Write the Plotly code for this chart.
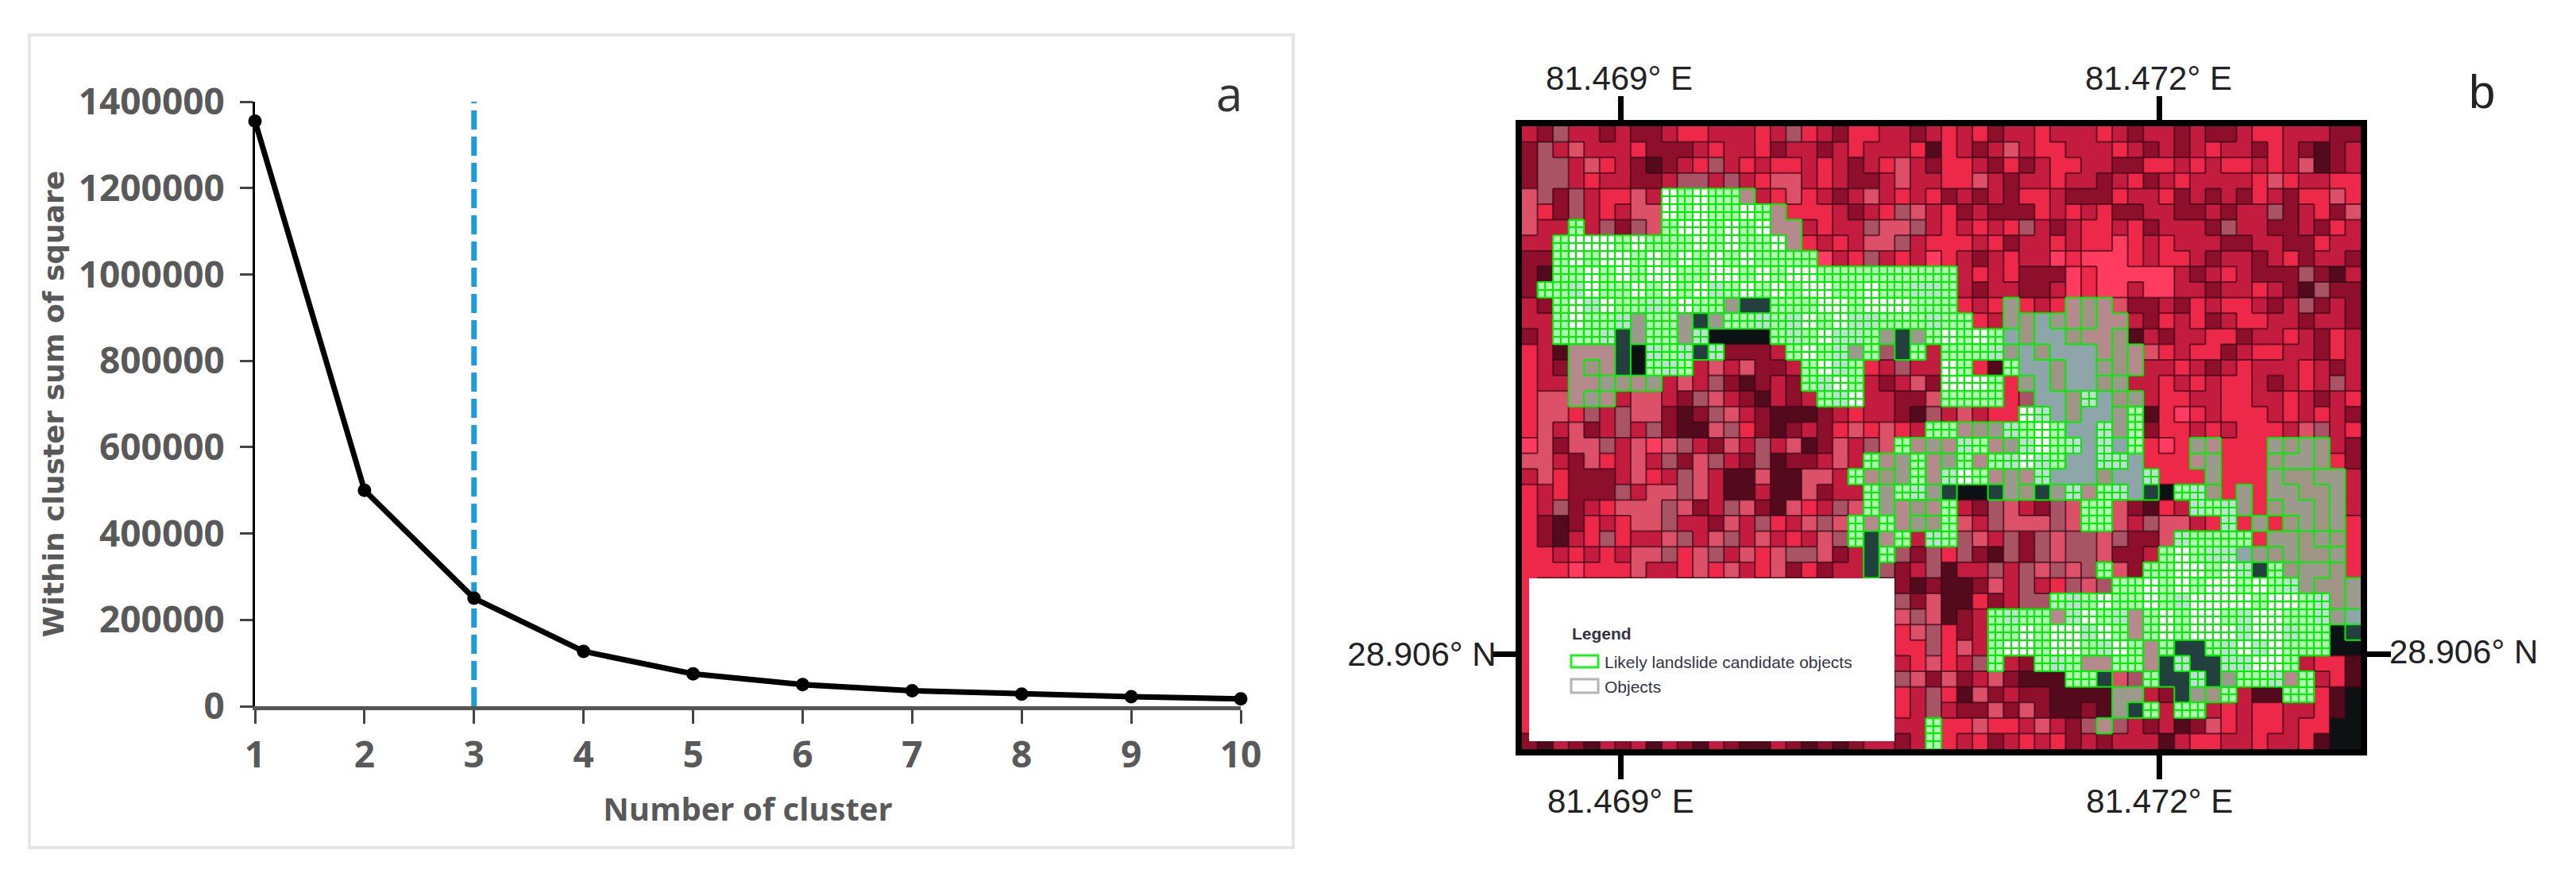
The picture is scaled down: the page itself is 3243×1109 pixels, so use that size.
import numpy as np
import plotly.graph_objects as go

W, H = 3243, 1109
PAGE_MARGIN = 8  # default body margin of the written page

# panel a values
clusters = [1, 2, 3, 4, 5, 6, 7, 8, 9, 10]
wcss = [1355000, 500000, 250000, 127000, 75000, 50000, 36000, 28000, 22000, 17000]
elbow_x = [3, 3]
elbow_y = [0, 1410000]
y_ticks = [0, 200000, 400000, 600000, 800000, 1000000, 1200000, 1400000]

# panel b ticks
lon_ticks = [81.469, 81.472]
lon_labels = ["81.469° E", "81.472° E"]
lat_ticks = [28.906]
lat_labels = ["28.906° N"]
lon_range = [81.46845, 81.47312]
lat_range = [28.90547, 28.90894]

# image, one letter per block, 54 x 40
image_rows = [
    "mdqmmdmdd mrrmmmrmq rmdrrmmdm rmrdmmrmm mrmdmmdmd dmrrmmmdd",
    "dqmpmmmrd ddmrmmrdm mdmrmmmrD rmdmpmrrm mmrmdmdmr mmdrmdDdm",
    "dqqmprmdD dmrqmrmrr mrmdmrpmd rrmdrdmrr mmddrrmrm rrmrmpDdm",
    "dqqmrmmdd mqqmqmrpp mrmddmpmm rrpmdmmrm mdmrdmrmm mmrprmmrr",
    "pqdqmrrpm WXWXXNmrp rmdmpmrmr dmdmdrrmd ddrmmrdmd mdrmdrrpr",
    "prdqmrmpp WXWXXWXNr rrmdmrqpm rdmdddrmr mrddmmddm dmmqdmrdp",
    "pmmXmqdqp XWWXWXWNN mrmmqppqm rmrmrqmdm rrmrdmmmd qmmddmdrm",
    "mmXWWWXWX XXWXWXXWN rmrmppqmr rrmrdmmrm rrRrmrmmm ddmmddrmm",
    "ddXWXWWXW XWXWXWXXX XRmrqmrmR rmdmrmmRr RRRrmrrmd mmdmrdmmd",
    "dDXXWXWXW WXXWWXWXW WXXXXXXXX XmrmrdddR rRRRRRmdm rmdddqdDm",
    "dXXSWXXWX WXWSXWXWX WWXXWXXSS XmdmmddmR rRRmRRmmd mmrmdDqdd",
    "mdXWSWXXS XWXXTKKXX XWWXWWWXX XrmrTrmrN UNpddmdrm rrmdmqdmd",
    "mmXWXXSTX XTKTXXSXS WXWSSXXXS XXrmTUBTN UNNmdrmrd mrrmmdmmd",
    "dmXXXSKTX XTSZZZZXS XWSSXTKTX WXWXBUBBU NNUDmdmmr rdmmrmdrm",
    "rmDNNNKZS XSKSdddmX WXSTXqKXm XXXSTBUBB BNUNprmrr dmrrmmdrm",
    "rmdNUNKZX SXmpmpddm XWSXrmqmm WXrDXBBUB BTUNmmrmd mrmmmrmdm",
    "rmmNNTUNT mpmqdDdmd XSWXmdmpd WWWXrTBUB BUTmmrmrm rrmdmrmqm",
    "rppNTNmpp mdqpmdDmd mXSWmmddp XXXXrqBBU SBUTmrrmm rrmmrmdmr",
    "rpprqmqpp dDdqpmdDD DdmrmmdDq mpmrrWSBU BBTXDrRrm rrrmrmrmd",
    "rpmpdmqmq dDDpqrdDd mdrprprmX XNUTSXWXB BSTXdrrmr mrrrmpqmr",
    "RpdppqmpR pqmdpmqmp DdpmqpXNT NSXNTSWXS BSBXrRrTN rrrTUTUmd",
    "ppmdprmpm qdpqmdqDd dmpmXNTXN TXNXSWSXB BSSBrrrNT rrrUTTUrd",
    "mprdddmpr mqpmDDpDD ppmXNUTXN SWXNTNSBB BUBBSrrrT rrrTUUTTm",
    "rmrdddqmp pqpmDDmDD pdmmXTXST KZZKTUKTS NXSBKZXSU rTrTTUUTm",
    "rmqdmrppp qpdmqpdDp rmqpXTNUN XmdqpmdqP XXpdDrmSX STrUTTUTm",
    "rdDdrmrpp qmmdpmqrm pqpXNXNTU XpmqpppqP XXpmqppmr SrTrUTUTr",
    "rdDmrqrmm pqmpqmpmr mpqXKNXmS XqpmqdqpQ qpqddpSXX XXrTTUTUr",
    "rrmrmrmpp qrpqmprpq qpdmKXqdq rqdDqdqpq qpddmXWXS SBTUTUUTr",
    "rrrRrrrpm mrprpmrpd rdmmKqdmq Dmmqmqpqp qXpdXXWWX WSKXUTTUr",
    "rmmmmmmmm mmmmmmmmm mmmmmmdDd DDdpmqmrq pqXXWXWXW WXWXSTUUT",
    "rmmmmmmmm mmmmmmmmm mmmmmmqdp DDrdmqqXS XWXXWXSWW WWXWWXSUT",
    "rmmmmmmmm mmmmmmmmm mmmmmmpqp DdmXSXXNS WXSNXWXWW XSWWXXSTB",
    "rmmmmmmmm mmmmmmmmm mmmmmmrpq rdmXXWXWW SWXNXWXWW WSWWSXXZK",
    "rmmmmmmmm mmmmmmmmm mmmmmmrrq rpmXWWXWW XSWXNXKKX SWSWXXXZZ",
    "rmmmmmmmm mmmmmmmmm mmmmmmmrp rmqXmdXSX NNXXNKSKK SSWWXmrrD",
    "rmmmmmmmm mmmmmmmmm mmmmmmqpd pdmpdDDDX XKpqXKKSK TXXSNXmrD",
    "rmmmmmmmm mmmmmmmmm mmmmmmrmq rDpdmddDD DDTTmdKTU XmDDXXrDZ",
    "rmmmmmmmm mmmmmmmmm mmmmmmrmq mddpdpdDD dDTKXmXXm rmrrmmrDZ",
    "rmmmmmmmm mmmmmmmmm mmmmmmmmX rrprrmpmd qNqmdmDdp rmrrmrrZZ",
    "dDmdDmdmD mdDmdDDmd DdDdmmdmX rmrdmrmrd mdmmmDmrr mmrmmrDZZ",
]
image_rows = [r.replace(" ", "").replace("P", "p").replace("Q", "q") for r in image_rows]

base_colors = {
    "R": "#ff3c60", "r": "#ee2848", "m": "#c41c3e", "d": "#8e0f2c", "D": "#520a1c",
    "p": "#dc5068", "q": "#a85464", "Z": "#0c1214",
}
coarse_colors = {"T": "#9c9a8c", "U": "#a09484", "B": "#8ea6aa", "N": "#b48a8c", "K": "#24403e"}
fine_colors = {"W": "#ffffff", "X": "#b0ffb0", "S": "#c4dcd8"}
mask_keys = set(coarse_colors) | set(fine_colors)


def px_x(v):
    return (v - PAGE_MARGIN) / W


def px_y(v):
    return 1 - (v - PAGE_MARGIN) / H


def scale(colors):
    n = len(colors)
    out = []
    for i, c in enumerate(colors.values()):
        out += [[i / n, c], [(i + 1) / n, c]]
    return out


def layer(rows, colors):
    keys = list(colors)
    return [[keys.index(c) + 0.5 if c in colors else None for c in row] for row in rows]


def fine_rows(rows):
    out = []
    for row in rows:
        doubled = "".join(c + c for c in row)
        out += [doubled, doubled]
    return out


ncol, nrow = len(image_rows[0]), len(image_rows)
dx = (lon_range[1] - lon_range[0]) / ncol
dy = (lat_range[1] - lat_range[0]) / nrow
lon = lon_range[0] + dx * (np.arange(ncol) + 0.5)
lat = lat_range[1] - dy * (np.arange(nrow) + 0.5)
lon2 = lon_range[0] + dx / 2 * (np.arange(ncol * 2) + 0.5)
lat2 = lat_range[1] - dy / 2 * (np.arange(nrow * 2) + 0.5)
lon_edge = lon_range[0] + dx * np.arange(ncol + 1)
lat_edge = lat_range[1] - dy * np.arange(nrow + 1)


def outlines(rows):
    # object borders: wherever two neighbouring blocks differ
    dark_x, dark_y, green_x, green_y = [], [], [], []
    for r in range(nrow):
        for c in range(ncol):
            a = rows[r][c]
            pairs = []
            if c + 1 < ncol:
                pairs.append((rows[r][c + 1], [lon_edge[c + 1]] * 2, [lat_edge[r], lat_edge[r + 1]]))
            if r + 1 < nrow:
                pairs.append((rows[r + 1][c], [lon_edge[c], lon_edge[c + 1]], [lat_edge[r + 1]] * 2))
            for b, xs, ys in pairs:
                if a == b:
                    continue
                if a in mask_keys or b in mask_keys:
                    green_x += xs + [None]
                    green_y += ys + [None]
                else:
                    dark_x += xs + [None]
                    dark_y += ys + [None]
    return dark_x, dark_y, green_x, green_y


dark_x, dark_y, green_x, green_y = outlines(image_rows)

fig = go.Figure()

# Panel a: elbow curve
fig.add_trace(go.Scatter(x=elbow_x, y=elbow_y, mode="lines", cliponaxis=False,
                         line=dict(color="#1f9bdc", width=7, dash="24px,9px")))
fig.add_trace(go.Scatter(x=clusters, y=wcss, mode="lines+markers", cliponaxis=False,
                         line=dict(color="black", width=7),
                         marker=dict(color="black", size=17)))

# Panel b: image layers
fig.add_trace(go.Heatmap(x=lon, y=lat, z=layer(image_rows, base_colors), xaxis="x2", yaxis="y2",
                         colorscale=scale(base_colors), zmin=0, zmax=len(base_colors),
                         showscale=False, hoverinfo="skip"))
green = [[1 if c in fine_colors else None for c in row] for row in image_rows]
fig.add_trace(go.Heatmap(x=lon, y=lat, z=green, xaxis="x2", yaxis="y2",
                         colorscale=[[0, "#00ee00"], [1, "#00ee00"]], zmin=0, zmax=1,
                         showscale=False, hoverinfo="skip"))
fig.add_trace(go.Heatmap(x=lon, y=lat, z=layer(image_rows, coarse_colors), xaxis="x2", yaxis="y2",
                         colorscale=scale(coarse_colors), zmin=0, zmax=len(coarse_colors),
                         showscale=False, hoverinfo="skip"))
fig.add_trace(go.Heatmap(x=lon2, y=lat2, z=layer(fine_rows(image_rows), fine_colors), xaxis="x2", yaxis="y2",
                         colorscale=scale(fine_colors), zmin=0, zmax=len(fine_colors),
                         showscale=False, xgap=2, ygap=2, hoverinfo="skip"))
fig.add_trace(go.Scatter(x=dark_x, y=dark_y, xaxis="x2", yaxis="y2", mode="lines", hoverinfo="skip",
                         line=dict(color="rgba(60,6,20,0.7)", width=2)))
fig.add_trace(go.Scatter(x=green_x, y=green_y, xaxis="x2", yaxis="y2", mode="lines", hoverinfo="skip",
                         line=dict(color="#00ee00", width=2)))

tick_font = dict(family="Open Sans", size=46, color="#595959", weight=700)
map_font = dict(family="Liberation Sans", size=42, color="#222222")

fig.update_layout(
    width=W, height=H, autosize=False, margin=dict(l=0, r=0, t=0, b=0),
    paper_bgcolor="white", plot_bgcolor="white", showlegend=False,
    xaxis=dict(domain=[px_x(321), px_x(1562)], range=[1, 10], tickvals=clusters, automargin=False,
               showgrid=False, zeroline=False, showline=True, linecolor="#555555", linewidth=5,
               ticks="outside", ticklen=17, tickwidth=3, tickcolor="#444444",
               tickfont=tick_font, ticklabelstandoff=0,
               title=dict(text="Number of cluster", font=dict(family="Open Sans", size=40, color="#595959", weight=700),
                          standoff=28)),
    yaxis=dict(domain=[px_y(889), px_y(128)], range=[0, 1400000], tickvals=y_ticks, automargin=False,
               showgrid=False, zeroline=False, showline=True, linecolor="black", linewidth=3,
               ticks="outside", ticklen=16, tickwidth=3, tickcolor="#444444",
               tickfont=tick_font, ticklabelstandoff=10, tickformat="d",
               title=dict(text="Within cluster sum of square", font=dict(family="DejaVu Sans", size=36, color="#595959", weight=700),
                          standoff=8)),
    xaxis2=dict(domain=[px_x(1916), px_x(2972)], range=lon_range, anchor="y2", automargin=False,
                tickvals=lon_ticks, ticktext=lon_labels, tickfont=map_font,
                showgrid=False, zeroline=False, showline=True, linecolor="black", linewidth=8,
                mirror="ticks", ticks="outside", ticklen=30, tickwidth=7, tickcolor="black",
                ticklabelstandoff=-8),
    yaxis2=dict(domain=[px_y(943), px_y(159)], range=lat_range, anchor="x2", automargin=False,
                tickvals=lat_ticks, ticktext=lat_labels, tickfont=map_font,
                showgrid=False, zeroline=False, showline=True, linecolor="black", linewidth=8,
                mirror="ticks", ticks="outside", ticklen=30, tickwidth=7, tickcolor="black",
                ticklabelstandoff=-14),
)

# frame around panel a, white legend box and swatches
fig.add_shape(type="rect", xref="paper", yref="paper", x0=px_x(37), x1=px_x(1628), y0=px_y(1067), y1=px_y(44),
              line=dict(color="#e6e6e6", width=4), layer="below")
fig.add_shape(type="rect", xref="paper", yref="paper", x0=px_x(1925), x1=px_x(2385), y0=px_y(933), y1=px_y(728),
              line=dict(width=0), fillcolor="white")
fig.add_shape(type="rect", xref="paper", yref="paper", x0=px_x(1978), x1=px_x(2012), y0=px_y(840), y1=px_y(825),
              line=dict(color="#22ee22", width=3), fillcolor="white")
fig.add_shape(type="rect", xref="paper", yref="paper", x0=px_x(1978), x1=px_x(2012), y0=px_y(872), y1=px_y(855),
              line=dict(color="#b4b4b4", width=3), fillcolor="white")


def label(text, x, y, font, anchor="center"):
    fig.add_annotation(text=text, xref="paper", yref="paper", x=px_x(x), y=px_y(y), showarrow=False,
                       font=font, xanchor=anchor, yanchor="middle")


label("a", 1547, 117, dict(family="Open Sans", size=60, color="#333333"))
label("b", 3124, 115, dict(family="Liberation Sans", size=60, color="#222222"))
label(lon_labels[0], 2038, 98, map_font)
label(lon_labels[1], 2717, 98, map_font)
label(lat_labels[0], 3101, 820, map_font)
legend_font = dict(family="Liberation Sans", size=21, color="#333344")
label("<b>Legend</b>", 1977, 797, legend_font, "left")
label("Likely landslide candidate objects", 2018, 833, legend_font, "left")
label("Objects", 2018, 864, legend_font, "left")

fig.write_html("out.html")
